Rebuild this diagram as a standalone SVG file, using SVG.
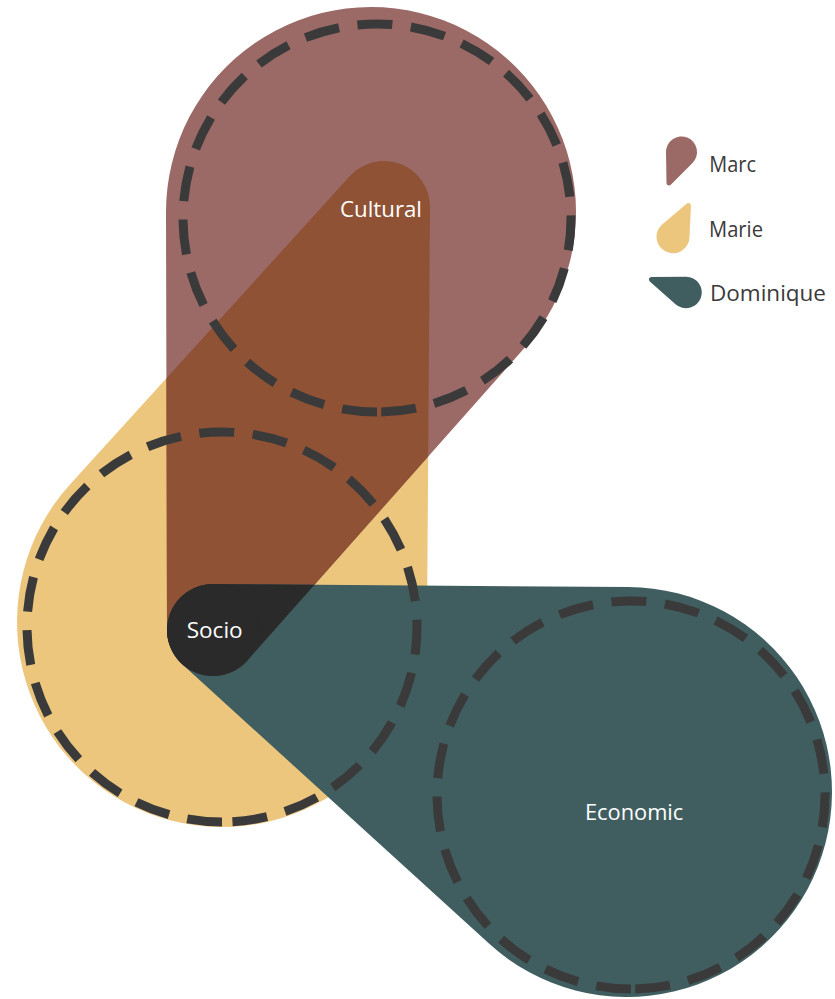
<svg xmlns="http://www.w3.org/2000/svg" width="835" height="999" viewBox="0 0 835 999">
  <style>
    .marc { fill: #9b6a67; }
    .marie { fill: #edc67e; }
    .dom { fill: #405e60; }
    .both { fill: #8f5234; }
    .all { fill: #2a2a2a; }
    .dash { fill: none; stroke: #3a3a3a; stroke-width: 9; stroke-dasharray: 35 18.6; }
    .lbl { font-family: "Open Sans", "Liberation Sans", sans-serif; font-size: 22px; fill: #ffffff; }
    .leg { font-family: "Open Sans", "Liberation Sans", sans-serif; font-size: 22px; fill: #3a3a3a; }
  </style>
  <defs>
    <path id="pMarc" d="M166,212.5 A205,205 0 1 1 524.4,348 L247.4,660.5 A46,46 0 0 1 167,630.1 Z"/>
    <path id="pMarie" d="M430,207.3 L427,623.5 A205,205 0 1 1 70.2,484.2 L349.9,176.1 A46,46 0 0 1 430,207.3 Z"/>
    <path id="pDom" d="M213.3,584 L628.5,587 A205,205 0 1 1 489,943.6 L182,664 A46,46 0 0 1 213.3,584 Z"/>
    <clipPath id="cMarc"><use href="#pMarc"/></clipPath>
    <clipPath id="cMarie"><use href="#pMarie"/></clipPath>
  </defs>
  <rect width="835" height="999" fill="#ffffff"/>
  <g id="connectors">
    <use id="marie-region" href="#pMarie" class="marie"/>
    <use id="marc-region" href="#pMarc" class="marc"/>
    <use id="marc-marie-overlap" href="#pMarie" class="both" clip-path="url(#cMarc)"/>
    <use id="dominique-region" href="#pDom" class="dom"/>
    <g clip-path="url(#cMarc)">
      <use id="all-overlap" href="#pDom" class="all" clip-path="url(#cMarie)"/>
    </g>
  </g>
  <g id="node-cultural">
    <circle class="dash" cx="377" cy="218" r="194" transform="rotate(90 377 218)"/>
    <text class="lbl" x="340" y="217.3" textLength="82" lengthAdjust="spacingAndGlyphs">Cultural</text>
  </g>
  <g id="node-socio">
    <circle class="dash" cx="222" cy="627" r="195" transform="rotate(90 222 627)"/>
    <circle class="all" cx="213" cy="630" r="46"/>
    <text class="lbl" x="186.7" y="638.3" textLength="56" lengthAdjust="spacingAndGlyphs">Socio</text>
  </g>
  <g id="node-economic">
    <circle class="dash" cx="631" cy="795" r="194" transform="rotate(90 631 795)"/>
    <text class="lbl" x="585" y="820" textLength="98.3" lengthAdjust="spacingAndGlyphs">Economic</text>
  </g>
  <g id="legend">
    <g id="legend-marc">
      <path class="marc" d="M666,152.3 A15.5,15.5 0 1 1 692.5,162.9 L670.8,184.8 A2.5,2.5 0 0 1 666.5,183 Z"/>
      <text class="leg" x="709.3" y="172" textLength="46.7" lengthAdjust="spacingAndGlyphs">Marc</text>
    </g>
    <g id="legend-marie">
      <path class="marie" d="M691,205.6 L689.5,237.6 A16.5,16.5 0 1 1 662.4,224.2 L686.9,203.6 A2.5,2.5 0 0 1 691,205.6 Z"/>
      <text class="leg" x="709" y="237" textLength="54" lengthAdjust="spacingAndGlyphs">Marie</text>
    </g>
    <g id="legend-dominique">
      <path class="dom" d="M651.5,277 L685.9,276.7 A15.8,15.8 0 1 1 675.5,304.3 L649.8,281.4 A2.5,2.5 0 0 1 651.5,277 Z"/>
      <text class="leg" x="710" y="301" textLength="116" lengthAdjust="spacingAndGlyphs">Dominique</text>
    </g>
  </g>
</svg>
